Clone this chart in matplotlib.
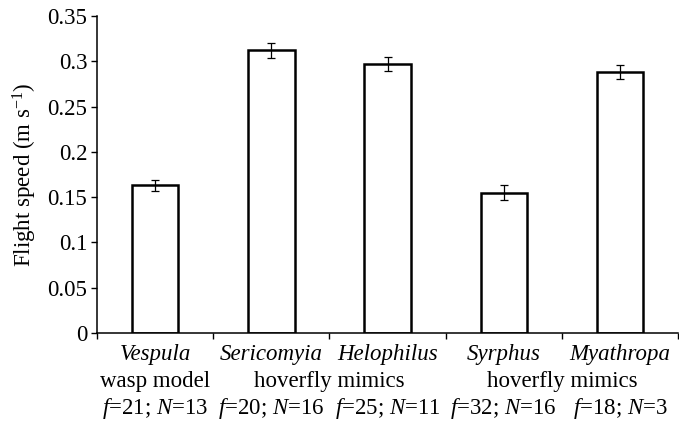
import matplotlib
matplotlib.use('Agg')
import matplotlib.pyplot as plt
import numpy as np

# flight speed per taxon
genera = ['Vespula', 'Sericomyia', 'Helophilus', 'Syrphus', 'Myathropa']
speed = [0.163, 0.312, 0.297, 0.155, 0.288]
speed_err = [0.006, 0.008, 0.008, 0.008, 0.008]
f_counts = [21, 20, 25, 32, 18]
n_counts = [13, 16, 11, 16, 3]
group_labels = ['wasp model', 'hoverfly mimics', 'hoverfly mimics']
group_pos = [0, 1.5, 3.5]
yticks = [0, 0.05, 0.1, 0.15, 0.2, 0.25, 0.3, 0.35]

plt.rcParams['font.family'] = ['Liberation Serif', 'DejaVu Serif']
plt.rcParams['mathtext.fontset'] = 'custom'
plt.rcParams['mathtext.rm'] = 'Liberation Serif'
plt.rcParams['mathtext.it'] = 'Liberation Serif:italic'
plt.rcParams['font.size'] = 16.5

fig = plt.figure(figsize=(6.79, 4.23), dpi=100)
ax = fig.add_axes([0.1429, 0.2128, 0.8557, 0.7494])

x = np.arange(len(genera))
ax.bar(x, speed, width=0.4, color='white', edgecolor='black', linewidth=1.8)
ax.errorbar(x, speed, yerr=speed_err, fmt='none', ecolor='black',
            elinewidth=0.9, capsize=3, capthick=0.9)

ax.set_xlim(-0.5, len(genera) - 0.5)
ax.set_ylim(0, 0.35)
ax.set_yticks(yticks)
ax.set_yticklabels(['0' if v == 0 else ('%g' % v) for v in yticks])
ax.set_xticks(np.arange(-0.5, len(genera), 1.0))
ax.set_xticklabels([])
ax.tick_params(direction='out', length=4, width=1, pad=3)
ax.spines['top'].set_visible(False)
ax.spines['right'].set_visible(False)
ax.spines['left'].set_linewidth(1.1)
ax.spines['bottom'].set_linewidth(1.1)

ax.set_ylabel('Flight speed (m s$^{-1}$)', labelpad=6)

trans = ax.get_xaxis_transform()
for i, g in enumerate(genera):
    ax.text(i, -0.086, g, style='italic', ha='center', va='baseline', transform=trans)
    ax.text(i, -0.254, '$f$=%d; $N$=%d' % (f_counts[i], n_counts[i]),
            ha='center', va='baseline', transform=trans)
for p, lab in zip(group_pos, group_labels):
    ax.text(p, -0.171, lab, ha='center', va='baseline', transform=trans)

fig.savefig('out.png', dpi=100)
